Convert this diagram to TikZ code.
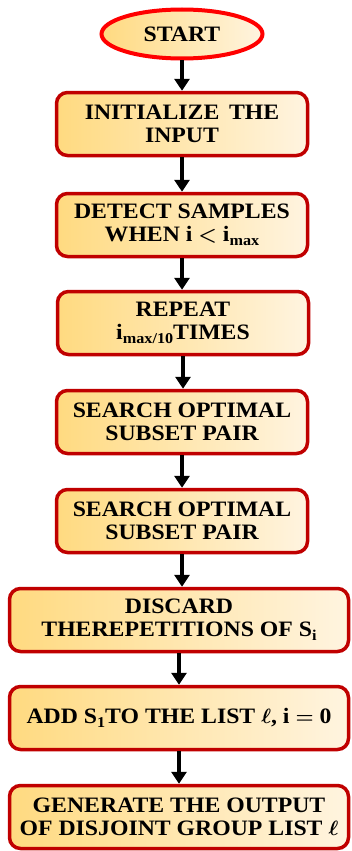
\documentclass[tikz,border=0pt]{standalone}
\usepackage{fontspec}
\setmainfont[FakeStretch=1.08]{Liberation Serif}
\usetikzlibrary{arrows.meta,shapes.geometric}
\definecolor{boxred}{RGB}{192,0,0}
\definecolor{startred}{RGB}{255,0,0}
\definecolor{fillL}{RGB}{255,218,128}
\definecolor{fillR}{RGB}{255,244,224}
\newcommand\lowx[1]{\raisebox{-0.4ex}{\fontsize{15}{15}\selectfont #1}}
\tikzset{
  x=1pt,y=1pt,
  basebox/.style={draw=boxred, line width=3.5pt, rounded corners=11pt,
    left color=fillL, right color=fillR, align=center,
    font=\fontsize{22}{23}\selectfont\bfseries, inner sep=0pt},
  narrowbox/.style={basebox, minimum width=251pt, minimum height=63pt},
  widebox/.style={basebox, minimum width=339pt, minimum height=63pt},
  startnode/.style={ellipse, draw=startred, line width=4pt,
    left color=fillL, right color=fillR, minimum width=161pt, minimum height=49pt,
    font=\fontsize{22}{23}\selectfont\bfseries, inner sep=0pt},
  flow/.style={line width=4pt, -{Triangle[width=15pt,length=12pt]}}
}
\begin{document}
\begin{tikzpicture}
\useasboundingbox (0,0) rectangle (352,-851);
\node[startnode] (start) at (182,-34) {START};
\node[narrowbox] (n1) at (182,-124) {INITIALIZE\, THE\\INPUT};
\node[narrowbox] (n2) at (182,-225) {DETECT SAMPLES\\WHEN i {\boldmath$<$} i\lowx{max}};
\node[narrowbox] (n3) at (183,-323) {REPEAT\\i\lowx{max/10}TIMES};
\node[narrowbox] (n4) at (182,-422) {SEARCH OPTIMAL\\SUBSET PAIR};
\node[narrowbox] (n5) at (182,-521) {SEARCH OPTIMAL\\SUBSET PAIR};
\node[widebox] (n6) at (179,-620) {DISCARD\\THEREPETITIONS OF S\lowx{i}};
\node[widebox] (n7) at (179,-718) {ADD S\lowx{1}TO THE LIST {\boldmath$\ell$}, i {\boldmath$=$} 0};
\node[widebox] (n8) at (179,-817) {GENERATE THE OUTPUT\\OF DISJOINT GROUP LIST {\boldmath$\ell$}};
\draw[flow] (start.south) -- (start.south |- n1.north);
\draw[flow] (n1.south) -- (n1.south |- n2.north);
\draw[flow] (n2.south) -- (n2.south |- n3.north);
\draw[flow] (n3.south) -- (n3.south |- n4.north);
\draw[flow] (n4.south) -- (n4.south |- n5.north);
\draw[flow] (n5.south) -- (n5.south |- n6.north);
\draw[flow] (n6.south) -- (n6.south |- n7.north);
\draw[flow] (n7.south) -- (n7.south |- n8.north);
\end{tikzpicture}
\end{document}
